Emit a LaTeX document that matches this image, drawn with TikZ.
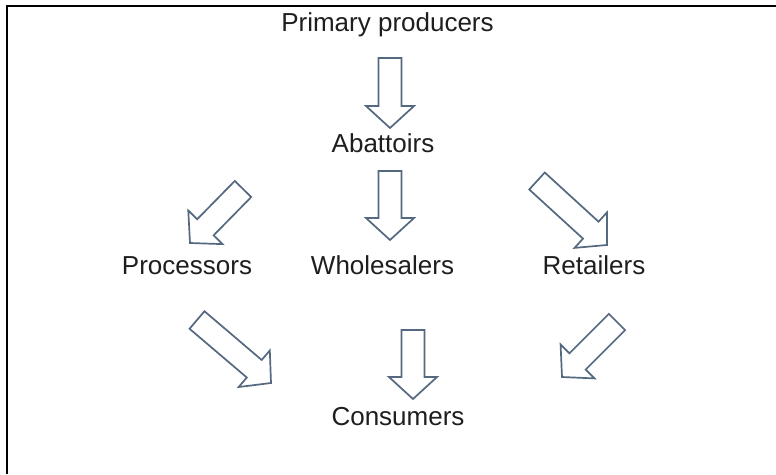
\documentclass[tikz,border=0pt]{standalone}
\usepackage{fontspec}
\setmainfont{Liberation Sans}
\usetikzlibrary{calc}
\definecolor{arrowline}{RGB}{84,104,128}
\definecolor{labeltext}{RGB}{30,30,30}
\tikzset{
  stage/.style={anchor=base, inner sep=0pt, text=labeltext,
                font=\fontsize{26}{30}\selectfont},
  blockarrow/.style={draw=arrowline, line width=1.7pt, fill=white, line join=miter},
  frameline/.style={draw=black, line width=2pt},
}
% Hollow block arrow from a tail coordinate (#1) to a tip coordinate (#2)
\newcommand\flowarrow[2]{%
  \coordinate (#1-hb) at ($(#2)!22pt!(#1)$);
  \draw[blockarrow]
    ($(#1)!11.5pt!90:(#2)$) --
    ($(#1-hb)!11.5pt!90:(#2)$) --
    ($(#1-hb)!24pt!90:(#2)$) --
    (#2) --
    ($(#1-hb)!24pt!-90:(#2)$) --
    ($(#1-hb)!11.5pt!-90:(#2)$) --
    ($(#1)!11.5pt!-90:(#2)$) -- cycle;
}
\begin{document}
\begin{tikzpicture}[x=1pt, y=-1pt]
  % page and frame
  \fill[white] (0,0) rectangle (776,474);
  \useasboundingbox (0,0) rectangle (776,474);
  \coordinate (frameTR) at (776,6);
  \coordinate (frameTL) at (6.5,6);
  \coordinate (frameBL) at (6.5,474);
  \draw[frameline] (frameTR) -- (frameTL) -- (frameBL);

  % stages of the supply chain
  \node[stage] (prim) at (387.5,31)  {Primary producers};
  \node[stage] (abat) at (383,152.5) {Abattoirs};
  \node[stage] (proc) at (187,274)   {Processors};
  \node[stage] (whol) at (382.5,274) {Wholesalers};
  \node[stage] (reta) at (594,274)   {Retailers};
  \node[stage] (cons) at (398,425)   {Consumers};

  % arrow end points
  \coordinate (a1t) at (390,58);  \coordinate (a1h) at (390,128);
  \coordinate (a2t) at (390,171); \coordinate (a2h) at (390,240);
  \coordinate (a3t) at (243,189); \coordinate (a3h) at (190,243);
  \coordinate (a4t) at (537,181); \coordinate (a4h) at (607,245);
  \coordinate (a5t) at (197,320); \coordinate (a5h) at (271,383);
  \coordinate (a6t) at (617,322); \coordinate (a6h) at (562,377);
  \coordinate (a7t) at (413,330); \coordinate (a7h) at (413,399);

  % flows
  \flowarrow{a1t}{a1h}
  \flowarrow{a2t}{a2h}
  \flowarrow{a3t}{a3h}
  \flowarrow{a4t}{a4h}
  \flowarrow{a5t}{a5h}
  \flowarrow{a6t}{a6h}
  \flowarrow{a7t}{a7h}
\end{tikzpicture}
\end{document}
